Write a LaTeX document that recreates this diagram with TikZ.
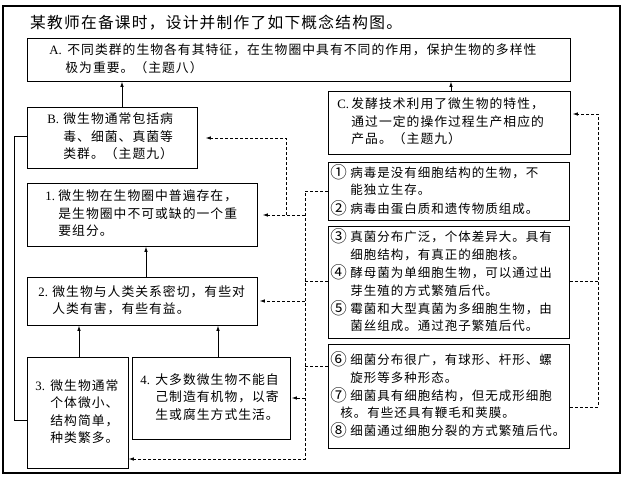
\documentclass[tikz,border=0pt]{standalone}
\usepackage{fontspec}
\setmainfont{Liberation Serif}
\newfontfamily\cjk[LetterSpace=8]{Noto Sans CJK SC}
\usetikzlibrary{arrows.meta}
\newcommand{\mylab}[2]{\makebox[#1pt][l]{\raisebox{-1pt}{\fontsize{16.5}{17}\selectfont #2}}}
\newcommand{\rlab}[2]{\makebox[#1pt][l]{\rmfamily #2}}
\tikzset{
  box/.style={draw, line width=0.8pt, anchor=north west, align=left, inner ysep=0pt,
    font=\cjk\fontsize{12.8}{17.5}\selectfont},
  rbox/.style={box, font=\cjk\fontsize{12.5}{17.5}\selectfont},
  arr/.style={line width=0.7pt, -{Latex[length=5pt,width=3.5pt]}},
  dsh/.style={line width=0.7pt, dash pattern=on 3pt off 2pt},
  darr/.style={dsh, -{Latex[length=5pt,width=3.5pt]}},
  frame/.style={line width=1.1pt},
}
\begin{document}
\begin{tikzpicture}[x=1pt,y=-1pt]
\useasboundingbox (0,0) rectangle (625,482);
\draw[frame] (3,6) rectangle (620,473);
\node[anchor=west, inner sep=0pt, font=\cjk\fontsize{15.7}{18}\selectfont] (title) at (30,23)
  {某教师在备课时，设计并制作了如下概念结构图。};

% boxes
\node[box, minimum width=543pt, minimum height=43pt, inner xsep=22pt, text width=499pt] (A) at (27,38)
 {\begin{tabular}{@{}l@{}l@{}}\rlab{18}{A.} & 不同类群的生物各有其特征，在生物圈中具有不同的作用，保护生物的多样性\\
  & \hspace{-2pt}极为重要。（主题八）\end{tabular}};
\node[box, minimum width=170pt, minimum height=61pt, inner xsep=20pt, text width=130pt] (B) at (27,107)
 {\begin{tabular}{@{}l@{}l@{}}\rlab{16}{B.} & 微生物通常包括病\\ & 毒、细菌、真菌等\\ & 类群。（主题九）\end{tabular}};
\node[box, minimum width=242pt, minimum height=63pt, inner xsep=9pt, text width=224pt] (C) at (328,91)
 {\begin{tabular}{@{}l@{}l@{}}\rlab{14}{C.} & 发酵技术利用了微生物的特性，\\ & 通过一定的操作过程生产相应的\\ & 产品。（主题九）\end{tabular}};
\node[box, minimum width=230pt, minimum height=63pt, inner xsep=18pt, text width=194pt] (n1) at (27,183)
 {\begin{tabular}{@{}l@{}l@{}}\rlab{13}{1.} & 微生物在生物圈中普遍存在，\\ & 是生物圈中不可或缺的一个重\\ & 要组分。\end{tabular}};
\node[box, minimum width=230pt, minimum height=48pt, inner xsep=11pt, text width=208pt] (n2) at (27,277)
 {\begin{tabular}{@{}l@{}l@{}}\rlab{14}{2.} & 微生物与人类关系密切，有些对\\ & 人类有害，有些有益。\end{tabular}};
\node[box, minimum width=101pt, minimum height=111pt, inner xsep=8pt, text width=85pt] (n3) at (27,357)
 {\begin{tabular}{@{}l@{}l@{}}\rlab{15}{3.} & 微生物通常\\ & 个体微小、\\ & 结构简单，\\ & 种类繁多。\end{tabular}};
\node[box, minimum width=158pt, minimum height=82pt, inner xsep=8pt, text width=142pt] (n4) at (132,357)
 {\begin{tabular}{@{}l@{}l@{}}\rlab{15}{4.} & 大多数微生物不能自\\ & 己制造有机物，以寄\\ & 生或腐生方式生活。\end{tabular}};
\node[rbox, minimum width=241pt, minimum height=58pt, inner xsep=2pt, text width=237pt] (V12) at (328,162)
 {\begin{tabular}{@{}l@{}l@{}}\mylab{20}{①} & 病毒是没有细胞结构的生物，不\\ & 能独立生存。\\ \mylab{20}{②} & 病毒由蛋白质和遗传物质组成。\end{tabular}};
\node[rbox, minimum width=241pt, minimum height=112pt, inner xsep=2pt, text width=237pt] (V345) at (328,226)
 {\begin{tabular}{@{}l@{}l@{}}\mylab{20}{③} & 真菌分布广泛，个体差异大。具有\\ & 细胞结构，有真正的细胞核。\\
  \mylab{20}{④} & 酵母菌为单细胞生物，可以通过出\\ & 芽生殖的方式繁殖后代。\\
  \mylab{20}{⑤} & 霉菌和大型真菌为多细胞生物，由\\ & 菌丝组成。通过孢子繁殖后代。\end{tabular}};
\node[rbox, minimum width=241pt, minimum height=104pt, inner xsep=2pt, text width=237pt] (V678) at (328,344)
 {\begin{tabular}{@{}l@{}l@{}}\mylab{20}{⑥} & 细菌分布很广，有球形、杆形、螺\\ & 旋形等多种形态。\\
  \mylab{20}{⑦} & 细菌具有细胞结构，但无成形细胞\\ & \hspace{-10pt}核。有些还具有鞭毛和荚膜。\\
  \mylab{20}{⑧} & 细菌通过细胞分裂的方式繁殖后代。\end{tabular}};

% helper coordinates
\coordinate (xBA) at (122,0);
\coordinate (xCA) at (451,0);
\coordinate (x21) at (146,0);
\coordinate (x32) at (79,0);
\coordinate (x42) at (218,0);
\coordinate (yL3) at (0,420);
\coordinate (yLB) at (0,136);
\coordinate (p1) at (305,191);
\coordinate (p2) at (305,215);
\coordinate (p3) at (305,301);
\coordinate (p5) at (305,398);
\coordinate (p6) at (305,459);
\coordinate (p7) at (305,281);
\coordinate (p8) at (305,366);
\coordinate (q1) at (286,215);
\coordinate (q2) at (286,138);
\coordinate (r1) at (598,281);
\coordinate (r2) at (598,407);
\coordinate (r3) at (598,114);

% solid arrows
\draw[arr] (B.north -| xBA) -- (A.south -| xBA);
\draw[arr] (C.north -| xCA) -- (A.south -| xCA);
\draw[arr] (n2.north -| x21) -- (n1.south -| x21);
\draw[arr] (n3.north -| x32) -- (n2.south -| x32);
\draw[arr] (n4.north -| x42) -- (n2.south -| x42);
\draw[line width=0.7pt] (n3.west |- yL3) -- ++(-13,0) |- (B.west |- yLB);

% dashed connectors (left)
\draw[darr] (V12.west |- p1) -- (p1) -- (p6) -- (n3.east |- p6);
\draw[darr, shorten >=5pt] (p2) -- (n1.east |- p2);
\draw[darr, shorten >=8pt] (q1) -- (q2) -- (B.east |- q2);
\draw[darr, shorten >=2pt] (p3) -- (n2.east |- p3);
\draw[darr, shorten >=1pt] (p5) -- (n4.east |- p5);
\draw[dsh] (V345.west |- p7) -- (p7);
\draw[dsh] (V678.west |- p8) -- (p8);

% dashed connectors (right)
\draw[dsh] (V345.east |- r1) -- (r1);
\draw[darr, shorten >=2pt] (V678.east |- r2) -- (r2) -- (r3) -- (C.east |- r3);
\end{tikzpicture}
\end{document}
